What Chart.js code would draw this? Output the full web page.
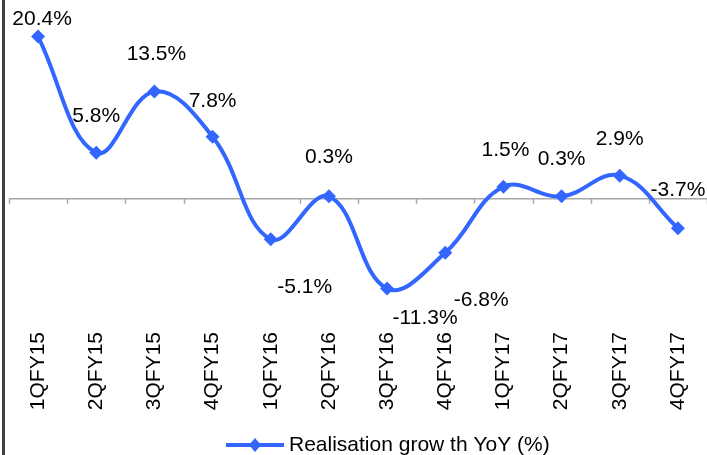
<!DOCTYPE html>
<html>
<head>
<meta charset="utf-8">
<script src="https://cdn.jsdelivr.net/npm/chart.js@4"></script>
<style>
  html, body { margin: 0; padding: 0; background: #fff; }
</style>
</head>
<body>
<canvas id="growthChart" width="707" height="455"></canvas>
<script>
const quarters = ["1QFY15", "2QFY15", "3QFY15", "4QFY15", "1QFY16", "2QFY16",
                  "3QFY16", "4QFY16", "1QFY17", "2QFY17", "3QFY17", "4QFY17"];
const growth = [20.4, 5.8, 13.5, 7.8, -5.1, 0.3, -11.3, -6.8, 1.5, 0.3, 2.9, -3.7];
const seriesName = "Realisation grow th YoY (%)";

// where each value label sits relative to its point (dx, dy)
const labelShift = [[4, -17], [0, -36], [2, -37], [0, -36], [34, 48], [0, -39],
                    [38, 30], [36, 47], [2, -37], [0, -37], [0, -36], [0, -38]];

const blue = "#3366ff";
const fontFamily = "'Liberation Sans', Arial, sans-serif";
const font = "21px " + fontFamily;

const decor = {
    id: "decor",
    beforeDatasetsDraw(chart) {
        const { ctx, chartArea, scales: { x, y } } = chart;
        const y0 = y.getPixelForValue(0);
        ctx.save();
        // zero line with category ticks
        ctx.strokeStyle = "#a6a6a6";
        ctx.lineWidth = 1.5;
        ctx.beginPath();
        ctx.moveTo(chartArea.left, y0);
        ctx.lineTo(chartArea.right, y0);
        for (let i = 0; i <= quarters.length; i++) {
            const px = Math.round(x.getPixelForValue(i - 0.5)) + 0.5;
            ctx.moveTo(px, y0);
            ctx.lineTo(px, y0 + 5);
        }
        ctx.stroke();
        // left axis line
        ctx.strokeStyle = "#404040";
        ctx.lineWidth = 3;
        ctx.beginPath();
        ctx.moveTo(3.5, 0);
        ctx.lineTo(3.5, chart.height);
        ctx.stroke();
        ctx.restore();
    },
    afterDatasetsDraw(chart) {
        const { ctx } = chart;
        const pts = chart.getDatasetMeta(0).data;
        ctx.save();
        ctx.font = font;
        ctx.fillStyle = "#000";
        ctx.textAlign = "center";
        ctx.textBaseline = "middle";
        pts.forEach((p, i) => {
            const [dx, dy] = labelShift[i];
            ctx.fillText(growth[i].toFixed(1) + "%", p.x + dx, p.y + dy);
        });
        ctx.restore();
    },
    afterDraw(chart) {
        const { ctx } = chart;
        const ly = 445;
        ctx.save();
        ctx.strokeStyle = blue;
        ctx.lineWidth = 4;
        ctx.beginPath();
        ctx.moveTo(226, ly);
        ctx.lineTo(284, ly);
        ctx.stroke();
        ctx.fillStyle = blue;
        ctx.beginPath();
        ctx.moveTo(255, ly - 7);
        ctx.lineTo(261, ly);
        ctx.lineTo(255, ly + 7);
        ctx.lineTo(249, ly);
        ctx.closePath();
        ctx.fill();
        ctx.font = font;
        ctx.fillStyle = "#000";
        ctx.textAlign = "left";
        ctx.textBaseline = "middle";
        ctx.fillText(seriesName, 289, ly);
        ctx.restore();
    }
};

new Chart(document.getElementById("growthChart").getContext("2d"), {
    type: "line",
    data: {
        labels: quarters,
        datasets: [{
            label: seriesName,
            data: growth,
            borderColor: blue,
            backgroundColor: blue,
            borderWidth: 4,
            tension: 0.4,
            pointStyle: "rectRot",
            pointRadius: 7,
            pointHoverRadius: 7,
            pointBackgroundColor: blue,
            pointBorderWidth: 0,
            clip: false
        }]
    },
    options: {
        responsive: false,
        animation: false,
        layout: { autoPadding: false, padding: { left: 9, right: -2, top: 0, bottom: 0 } },
        plugins: {
            legend: { display: false },
            tooltip: { enabled: false }
        },
        scales: {
            x: {
                offset: true,
                grid: { display: false, drawTicks: false },
                border: { display: false },
                ticks: {
                    autoSkip: false,
                    minRotation: 90,
                    maxRotation: 90,
                    padding: 14,
                    color: "#000",
                    font: { family: fontFamily, size: 21 }
                },
                afterFit(scale) {
                    scale.height = 137;
                    scale.paddingLeft = 0;
                    scale.paddingRight = 0;
                }
            },
            y: {
                display: false,
                min: -15,
                max: 25
            }
        }
    },
    plugins: [decor]
});
</script>
</body>
</html>
